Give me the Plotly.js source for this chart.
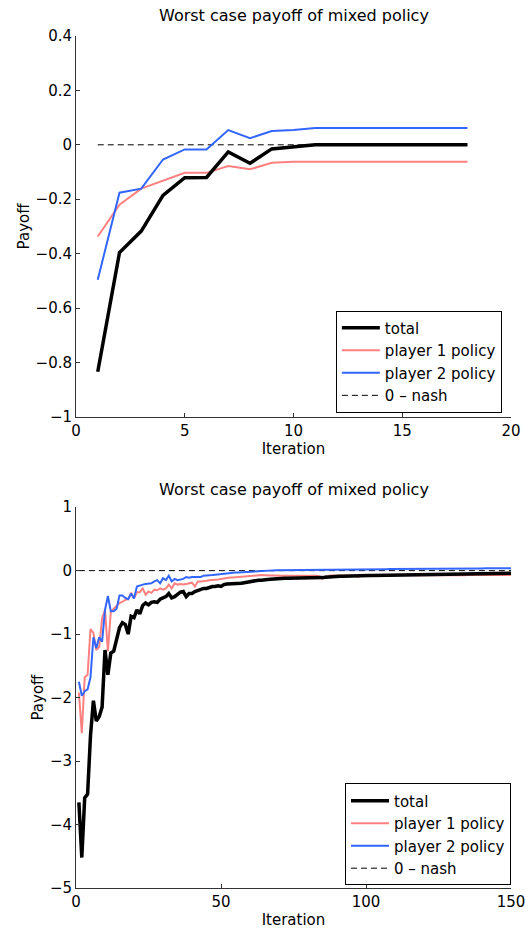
<!DOCTYPE html>
<html><head><meta charset="utf-8">
<script src="https://cdn.plot.ly/plotly-3.0.1.min.js"></script>
<style>html,body{margin:0;padding:0;background:#fff}</style>
</head><body><div id="chart" style="width:526px;height:929px"></div>
<script>
// ---- Top chart data (18 iterations) ----
const topIter = [1,2,3,4,5,6,7,8,9,10,11,12,13,14,15,16,17,18];
const topTotal = [-0.834,-0.396,-0.317,-0.186,-0.121,-0.12,-0.026,-0.068,-0.015,-0.009,0,0,0,0,0,0,0,0];
const topP1 = [-0.337,-0.22,-0.161,-0.132,-0.103,-0.103,-0.078,-0.09,-0.066,-0.062,-0.062,-0.062,-0.062,-0.062,-0.062,-0.062,-0.062,-0.062];
const topP2 = [-0.496,-0.176,-0.161,-0.054,-0.017,-0.017,0.054,0.024,0.051,0.054,0.062,0.062,0.062,0.062,0.062,0.062,0.062,0.062];
const nashLevel = 0;

// ---- Bottom chart data (150 iterations) ----
const botTotal = [
-3.65,-4.52,-3.58,-3.52,-2.6,-2.05,-2.37,-2.3,-2.15,-1.25,
-1.64,-1.3,-1.27,-1.1,-0.9,-0.82,-0.85,-1.0,-0.72,-0.74,
-0.62,-0.68,-0.55,-0.51,-0.54,-0.5,-0.49,-0.5,-0.45,-0.43,
-0.41,-0.36,-0.43,-0.41,-0.37,-0.34,-0.33,-0.41,-0.36,-0.36,
-0.33,-0.31,-0.29,-0.28,-0.28,-0.26,-0.25,-0.25,-0.24,-0.25,
-0.22,-0.21,-0.21,-0.2,-0.2,-0.2,-0.2,-0.19,-0.18,-0.17,
-0.16,-0.16,-0.15,-0.15,-0.14,-0.14,-0.135,-0.13,-0.13,-0.13,
-0.125,-0.12,-0.12,-0.12,-0.12,-0.12,-0.115,-0.115,-0.115,-0.11,
-0.11,-0.11,-0.11,-0.11,-0.11,-0.105,-0.1,-0.1,-0.095,-0.095,
-0.09,-0.09,-0.09,-0.088,-0.085,-0.085,-0.083,-0.08,-0.08,-0.078,
-0.077,-0.075,-0.074,-0.072,-0.07,-0.07,-0.068,-0.067,-0.066,-0.065,
-0.064,-0.063,-0.062,-0.061,-0.06,-0.06,-0.06,-0.059,-0.06,-0.058,
-0.057,-0.056,-0.055,-0.055,-0.054,-0.053,-0.052,-0.052,-0.051,-0.05,
-0.05,-0.049,-0.048,-0.048,-0.047,-0.046,-0.046,-0.045,-0.045,-0.044,
-0.044,-0.043,-0.043,-0.042,-0.042,-0.041,-0.041,-0.04,-0.04,-0.04];
const botP1 = [
-1.92,-2.56,-1.68,-1.64,-0.92,-0.98,-1.25,-1.2,-0.75,-0.62,
-1.27,-0.65,-0.6,-0.56,-0.51,-0.49,-0.46,-0.45,-0.35,-0.43,
-0.34,-0.34,-0.28,-0.38,-0.33,-0.35,-0.3,-0.31,-0.28,-0.3,
-0.28,-0.22,-0.28,-0.2,-0.22,-0.21,-0.22,-0.21,-0.2,-0.19,
-0.25,-0.17,-0.17,-0.17,-0.16,-0.15,-0.15,-0.14,-0.14,-0.13,
-0.12,-0.115,-0.11,-0.11,-0.105,-0.1,-0.1,-0.095,-0.09,-0.09,
-0.085,-0.08,-0.075,-0.07,-0.072,-0.075,-0.078,-0.08,-0.08,-0.08,
-0.08,-0.08,-0.082,-0.08,-0.08,-0.08,-0.08,-0.08,-0.078,-0.078,
-0.078,-0.078,-0.08,-0.09,-0.13,-0.09,-0.08,-0.078,-0.078,-0.076,
-0.076,-0.075,-0.075,-0.075,-0.076,-0.08,-0.1,-0.085,-0.075,-0.072,
-0.072,-0.073,-0.072,-0.072,-0.073,-0.072,-0.072,-0.073,-0.072,-0.072,
-0.072,-0.072,-0.073,-0.072,-0.072,-0.072,-0.073,-0.072,-0.074,-0.072,
-0.072,-0.071,-0.072,-0.071,-0.071,-0.072,-0.071,-0.071,-0.071,-0.071,
-0.07,-0.071,-0.07,-0.071,-0.07,-0.07,-0.071,-0.07,-0.07,-0.07,
-0.07,-0.07,-0.07,-0.07,-0.07,-0.069,-0.07,-0.069,-0.069,-0.069];
const botP2 = [
-1.75,-1.97,-1.9,-1.87,-1.68,-1.05,-1.22,-1.05,-1.12,-0.62,
-0.4,-0.64,-0.64,-0.6,-0.39,-0.39,-0.43,-0.45,-0.36,-0.44,
-0.25,-0.23,-0.22,-0.21,-0.2,-0.2,-0.17,-0.15,-0.2,-0.12,
-0.15,-0.08,-0.17,-0.13,-0.15,-0.14,-0.13,-0.1,-0.11,-0.1,
-0.1,-0.09,-0.1,-0.08,-0.08,-0.07,-0.07,-0.065,-0.06,-0.055,
-0.04,-0.04,-0.035,-0.035,-0.03,-0.028,-0.025,-0.02,-0.015,-0.01,
-0.008,-0.005,-0.002,0,0.002,0,0.003,0.004,0.005,0.006,
0.006,0.007,0.008,0.005,0.004,0.006,0.009,0.01,0.011,0.012,
0.012,0.012,0.013,0.013,0.013,0.014,0.014,0.014,0.015,0.015,
0.015,0.016,0.016,0.016,0.017,0.017,0.018,0.018,0.019,0.019,
0.02,0.021,0.021,0.022,0.022,0.023,0.023,0.024,0.024,0.025,
0.025,0.026,0.026,0.026,0.027,0.027,0.028,0.028,0.028,0.029,
0.029,0.03,0.03,0.03,0.031,0.031,0.031,0.032,0.032,0.032,
0.033,0.033,0.033,0.034,0.034,0.034,0.035,0.035,0.035,0.035,
0.036,0.036,0.036,0.036,0.037,0.037,0.037,0.037,0.038,0.038];
const botIter = botTotal.map((_, i) => i + 1);

const seriesNames = ['total', 'player 1 policy', 'player 2 policy', '0 \u2013 nash'];
const titleText = 'Worst case payoff of mixed policy';

const FONT = 'DejaVu Sans';
const colTotal = '#000000', colP1 = '#FF8080', colP2 = '#3366FF';

function traces(x, tot, p1, p2, xa, ya, leg) {
  const nash = x.map(() => nashLevel);
  return [
    {x: x, y: nash, xaxis: xa, yaxis: ya, legend: leg, name: seriesNames[3], legendrank: 4, mode: 'lines',
     line: {color: '#000', width: 1, dash: '6px,4px'}},
    {x: x, y: p1, xaxis: xa, yaxis: ya, legend: leg, name: seriesNames[1], legendrank: 2, mode: 'lines',
     line: {color: colP1, width: 2}},
    {x: x, y: p2, xaxis: xa, yaxis: ya, legend: leg, name: seriesNames[2], legendrank: 3, mode: 'lines',
     line: {color: colP2, width: 2}},
    {x: x, y: tot, xaxis: xa, yaxis: ya, legend: leg, name: seriesNames[0], legendrank: 1, mode: 'lines',
     line: {color: colTotal, width: 3.5}}
  ];
}

const data = traces(topIter, topTotal, topP1, topP2, 'x', 'y', 'legend')
  .concat(traces(botIter, botTotal, botP1, botP2, 'x2', 'y2', 'legend2'));

const axisBase = {
  showgrid: false, zeroline: false, showline: true, linecolor: '#333', linewidth: 1,
  ticks: 'inside', ticklen: 4, tickcolor: '#333', mirror: false,
  tickfont: {family: FONT, size: 15, color: '#000'},
  automargin: false
};
const legBase = {
  bgcolor: '#fff', bordercolor: '#000', borderwidth: 1,
  font: {family: FONT, size: 15, color: '#000'},
  xanchor: 'right', yanchor: 'bottom', traceorder: 'normal', tracegroupgap: 0,
  itemwidth: 38
};

const layout = {
  width: 526, height: 929,
  margin: {l: 76, r: 15, t: 36, b: 41},
  paper_bgcolor: '#fff', plot_bgcolor: '#fff',
  font: {family: FONT, size: 15, color: '#000'},
  showlegend: true,
  xaxis: Object.assign({}, axisBase, {domain: [0, 1], anchor: 'y', range: [0, 20], dtick: 5, tick0: 0,
    title: {text: 'Iteration', font: {family: FONT, size: 15}, standoff: 4}}),
  yaxis: Object.assign({}, axisBase, {domain: [0.553, 1], anchor: 'x', range: [-1, 0.4], dtick: 0.2, tick0: 0,
    title: {text: 'Payoff', font: {family: FONT, size: 15}, standoff: 2}}),
  xaxis2: Object.assign({}, axisBase, {domain: [0, 1], anchor: 'y2', range: [0, 150], dtick: 50, tick0: 0,
    title: {text: 'Iteration', font: {family: FONT, size: 15}, standoff: 4}}),
  yaxis2: Object.assign({}, axisBase, {domain: [0, 0.447], anchor: 'x2', range: [-5, 1], dtick: 1, tick0: 0,
    title: {text: 'Payoff', font: {family: FONT, size: 15}, standoff: 2}}),
  legend: Object.assign({}, legBase, {x: 0.979, y: 0.558}),
  legend2: Object.assign({}, legBase, {x: 1.0, y: 0.003}),
  annotations: [
    {text: titleText, xref: 'paper', yref: 'paper', x: 0.5, y: 1, yshift: 9, xanchor: 'center', yanchor: 'bottom',
     showarrow: false, font: {family: FONT, size: 16, color: '#000'}},
    {text: titleText, xref: 'paper', yref: 'paper', x: 0.5, y: 0.447, yshift: 6, xanchor: 'center', yanchor: 'bottom',
     showarrow: false, font: {family: FONT, size: 16, color: '#000'}}
  ]
};

Plotly.newPlot('chart', data, layout, {displayModeBar: false, staticPlot: true});
</script>
</body></html>
